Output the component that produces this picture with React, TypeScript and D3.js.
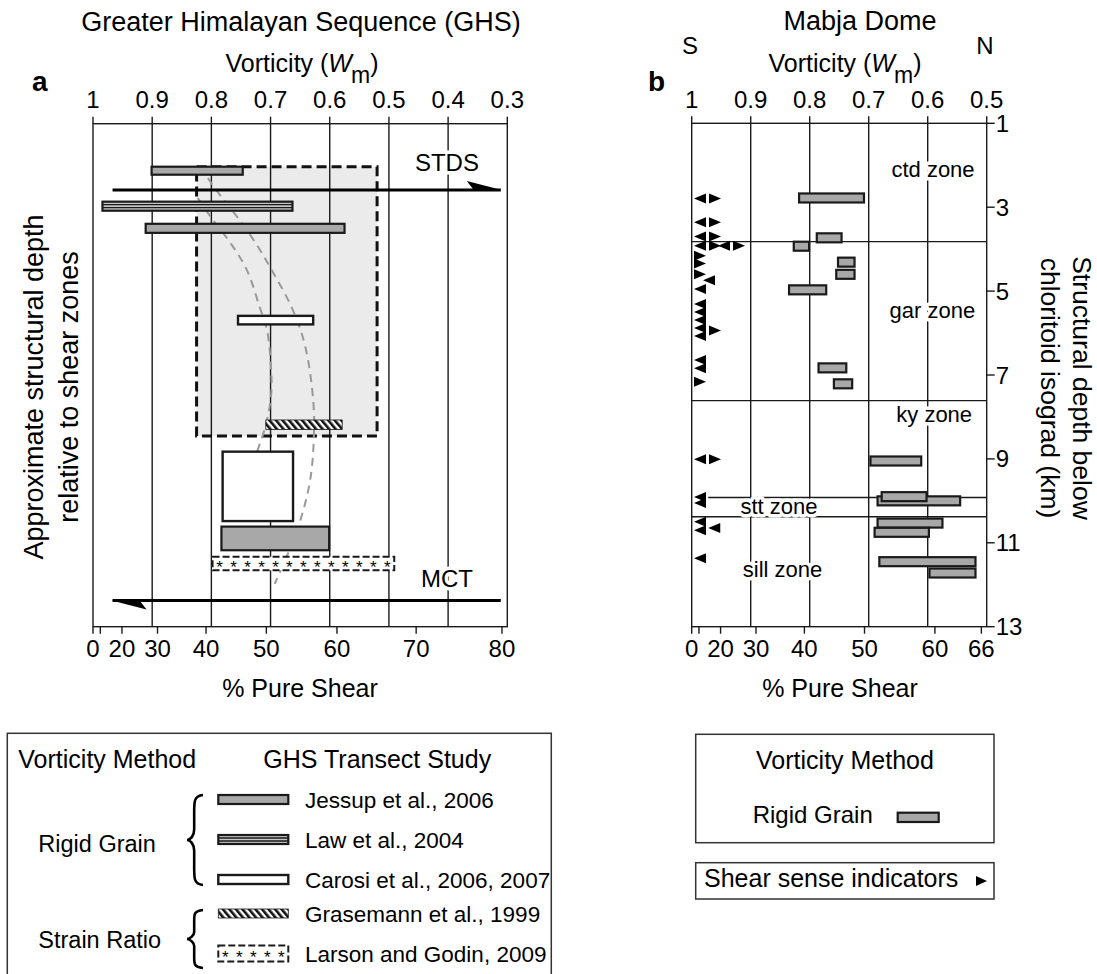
import { useEffect, useRef } from 'react';
import * as d3 from 'd3';

const FONT = '"Liberation Sans", Arial, Helvetica, sans-serif';
const INK = '#1a1a1a';
const GRAY = '#a8a8a8';

// axis ticks
const vorticityTicksA = [1, 0.9, 0.8, 0.7, 0.6, 0.5, 0.4, 0.3];
const vorticityTicksB = [1, 0.9, 0.8, 0.7, 0.6, 0.5];
const pureShearTicksA = [0, 10, 20, 30, 40, 50, 60, 70, 80];
const pureShearLabelsA = [0, 20, 30, 40, 50, 60, 70, 80];
const pureShearTicksB = [0, 10, 20, 30, 40, 50, 60, 66];
const pureShearLabelsB = [0, 20, 30, 40, 50, 60, 66];
const depthTicksB = [1, 3, 5, 7, 9, 11, 13];

// (a) GHS: Wm ranges vs relative structural depth (0 = top of frame, 100 = base)
const ghsStudies = ['jessup', 'law', 'carosi', 'grasemann', 'larson'];
const ghsStudyLabels = [
  'Jessup et al., 2006',
  'Law et al., 2004',
  'Carosi et al., 2006, 2007',
  'Grasemann et al., 1999',
  'Larson and Godin, 2009'
];
const ghsBarStudy = ['jessup', 'law', 'jessup', 'carosi', 'grasemann', 'carosi', 'jessup', 'larson'];
const ghsBarWmHigh = [0.901, 0.984, 0.911, 0.755, 0.708, 0.781, 0.783, 0.798];
const ghsBarWmLow = [0.747, 0.663, 0.575, 0.628, 0.579, 0.662, 0.601, 0.491];
const ghsBarTop = [8.55, 15.5, 19.9, 38.2, 58.9, 65.2, 80.1, 86.1];
const ghsBarBase = [10.14, 17.3, 21.7, 39.9, 60.8, 79.0, 84.8, 88.8];

const ghsEnvelopeWm = [0.825, 0.52];
const ghsEnvelopeDepth = [8.55, 62.1];

// hand-drawn trend lines [Wm, depth]
const trendLeft: [number, number][] = [
  [0.823, 14.8], [0.797, 19.2], [0.769, 23.5], [0.74, 29.1], [0.718, 36.6],
  [0.706, 41.0], [0.699, 49.0], [0.699, 53.9], [0.708, 59.9], [0.723, 65.3]
];
const trendRight: [number, number][] = [
  [0.806, 10.8], [0.779, 15.2], [0.752, 19.2], [0.721, 24.5], [0.701, 28.5],
  [0.664, 36.6], [0.642, 44.0], [0.628, 54.9], [0.627, 62.9], [0.633, 70.8],
  [0.647, 77.8], [0.667, 84.4], [0.693, 91.5]
];

const shearZoneNames = ['STDS', 'MCT'];
const shearZoneDepth = [13.2, 94.8];
const shearZoneDir = [1, -1];
const shearZoneLabelDepth = [9.34, 92.05];

// (b) Mabja Dome
const mabjaDepth = [2.78, 3.73, 3.93, 4.31, 4.60, 4.97, 6.83, 7.21, 9.05, 10.0, 9.90, 10.53, 10.75, 11.45, 11.72];
const mabjaWmHigh = [0.818, 0.788, 0.827, 0.752, 0.755, 0.835, 0.785, 0.759, 0.697, 0.685, 0.678, 0.685, 0.690, 0.682, 0.597];
const mabjaWmLow = [0.708, 0.746, 0.801, 0.724, 0.724, 0.772, 0.738, 0.728, 0.611, 0.545, 0.602, 0.575, 0.598, 0.519, 0.519];

const senseDepth = [2.79, 2.79, 3.36, 3.36, 3.70, 3.70, 3.92, 3.92, 3.92, 3.92, 4.16, 4.34, 4.60, 4.74, 4.95,
  5.31, 5.50, 5.69, 5.88, 6.07, 5.94, 6.64, 6.84, 7.16, 9.01, 9.01, 9.91, 10.05, 10.50, 10.70, 10.65, 11.37];
const senseDir = ['L', 'R', 'L', 'R', 'L', 'R', 'L', 'R', 'L', 'R', 'R', 'R', 'R', 'L', 'L',
  'L', 'L', 'L', 'L', 'L', 'R', 'L', 'L', 'R', 'L', 'R', 'L', 'L', 'L', 'L', 'L', 'L'];
const senseSlot = [0, 1, 0, 1, 0, 1, 0, 1, 1.6, 2.6, 0, 0, 0, 0.6, 0,
  0, 0, 0, 0, 0, 1, 0, 0, 0, 0, 1, 0, 0, 0, 0, 0.95, 0];

const zoneBoundaryDepth = [3.82, 7.61, 9.92, 10.38];
const zoneBoundaryStartWm = [1, 1, 0.972, 1];
const zoneNames = ['ctd zone', 'gar zone', 'ky zone', 'stt zone', 'sill zone'];
const zoneLabelDepth = [2.27, 5.65, 8.11, 10.32, 11.81];
const zoneLabelWm = [0.591, 0.592, 0.589, 0.852, 0.846];

// percent pure shear -> kinematic vorticity number
const toWm = (p: number) => Math.cos((p / 100) * (Math.PI / 2));

export default function App() {
  const ref = useRef<SVGSVGElement>(null);

  useEffect(() => {
    if (!ref.current) return;
    const svg = d3.select(ref.current);
    svg.selectAll('*').remove();

    const defs = svg.append('defs');
    const hatch = defs.append('pattern')
      .attr('id', 'hatch')
      .attr('patternUnits', 'userSpaceOnUse')
      .attr('width', 5).attr('height', 10)
      .attr('patternTransform', 'rotate(-40)');
    hatch.append('rect').attr('width', 5).attr('height', 10).attr('fill', '#fff');
    hatch.append('rect').attr('width', 2.6).attr('height', 10).attr('fill', '#111');

    const xA = d3.scaleLinear().domain([1, 0.3]).range([93, 507.3]);
    const yA = d3.scaleLinear().domain([0, 100]).range([123.7, 626.7]);
    const xB = d3.scaleLinear().domain([1, 0.5]).range([691.7, 986.7]);
    const yB = d3.scaleLinear().domain([1, 13]).range([123.3, 626.7]);

    const text = (g: any, x: number, y: number, s: string, size: number, anchor = 'start', weight = 'normal') =>
      g.append('text')
        .attr('x', x).attr('y', y)
        .attr('font-size', size)
        .attr('text-anchor', anchor)
        .attr('font-weight', weight)
        .attr('fill', '#000')
        .text(s);

    const halo = (sel: any) => sel
      .attr('stroke', '#fff').attr('stroke-width', 7)
      .attr('stroke-linejoin', 'round').attr('paint-order', 'stroke');

    const vortLabel = (g: any, cx: number, y: number) => {
      const t = g.append('text').attr('x', cx).attr('y', y).attr('font-size', 25).attr('text-anchor', 'middle');
      t.append('tspan').text('Vorticity (');
      t.append('tspan').attr('font-style', 'italic').text('W');
      t.append('tspan').attr('dy', 11).attr('dx', -1).attr('font-size', 23).text('m');
      t.append('tspan').attr('dy', -11).text(')');
    };

    // draws one study symbol (bar) in a box
    const drawStudy = (g: any, study: string, x: number, y: number, w: number, h: number) => {
      if (study === 'jessup') {
        g.append('rect').attr('x', x).attr('y', y).attr('width', w).attr('height', h)
          .attr('fill', GRAY).attr('stroke', INK).attr('stroke-width', 2.2);
      } else if (study === 'law') {
        g.append('rect').attr('x', x).attr('y', y).attr('width', w).attr('height', h)
          .attr('fill', '#c4c4c4').attr('stroke', INK).attr('stroke-width', 2.2);
        [1 / 3, 2 / 3].forEach(f => {
          g.append('line').attr('x1', x).attr('x2', x + w)
            .attr('y1', y + h * f).attr('y2', y + h * f)
            .attr('stroke', INK).attr('stroke-width', 1.3);
        });
      } else if (study === 'carosi') {
        g.append('rect').attr('x', x).attr('y', y).attr('width', w).attr('height', h)
          .attr('fill', '#fff').attr('stroke', INK).attr('stroke-width', 2.4);
      } else if (study === 'grasemann') {
        g.append('rect').attr('x', x).attr('y', y).attr('width', w).attr('height', h)
          .attr('fill', 'url(#hatch)').attr('stroke', INK).attr('stroke-width', 0.8);
      } else if (study === 'larson') {
        g.append('rect').attr('x', x).attr('y', y).attr('width', w).attr('height', h)
          .attr('fill', '#fff').attr('stroke', INK).attr('stroke-width', 2)
          .attr('stroke-dasharray', '7,3');
        const n = Math.max(1, Math.round(w / 14));
        d3.range(n).forEach(i => {
          g.append('text')
            .attr('x', x + (i + 0.5) * (w / n))
            .attr('y', y + h / 2 + 9.5)
            .attr('font-size', 17)
            .attr('text-anchor', 'middle')
            .text('*');
        });
      }
    };

    // ---------------- panel a ----------------
    const gA = svg.append('g');
    const [eW0, eW1] = ghsEnvelopeWm;
    const [eD0, eD1] = ghsEnvelopeDepth;

    gA.append('rect')
      .attr('x', xA(eW0)).attr('y', yA(eD0))
      .attr('width', xA(eW1) - xA(eW0)).attr('height', yA(eD1) - yA(eD0))
      .attr('fill', '#ebebeb');

    gA.selectAll('line.grid')
      .data(vorticityTicksA.slice(1, -1))
      .join('line')
      .attr('x1', d => xA(d)).attr('x2', d => xA(d))
      .attr('y1', yA(0)).attr('y2', yA(100))
      .attr('stroke', INK).attr('stroke-width', 1.4);

    gA.selectAll('line.top')
      .data(vorticityTicksA)
      .join('line')
      .attr('x1', d => xA(d)).attr('x2', d => xA(d))
      .attr('y1', yA(0) - 7).attr('y2', yA(0))
      .attr('stroke', INK).attr('stroke-width', 1.4);

    vorticityTicksA.forEach(d => text(gA, xA(d), 108.3, String(d), 24, 'middle'));

    gA.selectAll('line.bottom')
      .data(pureShearTicksA)
      .join('line')
      .attr('x1', d => xA(toWm(d))).attr('x2', d => xA(toWm(d)))
      .attr('y1', yA(100)).attr('y2', yA(100) + 7)
      .attr('stroke', INK).attr('stroke-width', 1.4);

    pureShearLabelsA.forEach(p => text(gA, xA(toWm(p)), 657.3, String(p), 24, 'middle'));

    gA.append('rect')
      .attr('x', xA(1)).attr('y', yA(0))
      .attr('width', xA(0.3) - xA(1)).attr('height', yA(100) - yA(0))
      .attr('fill', 'none').attr('stroke', INK).attr('stroke-width', 1.4);

    gA.append('rect')
      .attr('x', xA(eW0)).attr('y', yA(eD0))
      .attr('width', xA(eW1) - xA(eW0)).attr('height', yA(eD1) - yA(eD0))
      .attr('fill', 'none').attr('stroke', '#111').attr('stroke-width', 3)
      .attr('stroke-dasharray', '10,5');

    const trend = d3.line<[number, number]>()
      .x(d => xA(d[0])).y(d => yA(d[1]))
      .curve(d3.curveCatmullRom);
    [trendLeft, trendRight].forEach(pts => {
      gA.append('path').attr('d', trend(pts))
        .attr('fill', 'none').attr('stroke', '#999').attr('stroke-width', 2)
        .attr('stroke-dasharray', '8,6');
    });

    ghsBarStudy.forEach((s, i) => {
      const x0 = xA(ghsBarWmHigh[i]);
      const x1 = xA(ghsBarWmLow[i]);
      const y0 = yA(ghsBarTop[i]);
      const y1 = yA(ghsBarBase[i]);
      drawStudy(gA, s, x0, y0, x1 - x0, y1 - y0);
    });

    // shear zone arrows
    shearZoneNames.forEach((name, i) => {
      const y = yA(shearZoneDepth[i]);
      const xl = xA(0.967), xr = xA(0.311);
      gA.append('line').attr('x1', xl).attr('x2', xr).attr('y1', y).attr('y2', y)
        .attr('stroke', '#000').attr('stroke-width', 3);
      const head = shearZoneDir[i] > 0
        ? [[xr + 1, y], [xr - 34, y - 9], [xr - 27, y]]
        : [[xl - 1, y], [xl + 34, y + 9], [xl + 27, y]];
      gA.append('path').attr('d', 'M' + head.map(p => p.join(',')).join('L') + 'Z').attr('fill', '#000');
      halo(text(gA, xA(0.402), yA(shearZoneLabelDepth[i]), name, 24, 'middle'));
    });

    text(gA, 301, 31, 'Greater Himalayan Sequence (GHS)', 27, 'middle');
    vortLabel(gA, 302, 71.7);
    text(gA, 32, 91, 'a', 28, 'start', 'bold');
    text(gA, 300, 697, '% Pure Shear', 25, 'middle');

    const yl = gA.append('text').attr('transform', 'translate(0,387) rotate(-90)')
      .attr('font-size', 27).attr('text-anchor', 'middle');
    yl.append('tspan').attr('x', 0).attr('y', 43).text('Approximate structural depth');
    yl.append('tspan').attr('x', 0).attr('y', 78).text('relative to shear zones');

    // ---------------- panel b ----------------
    const gB = svg.append('g');

    gB.selectAll('line.grid')
      .data(vorticityTicksB.slice(1, -1))
      .join('line')
      .attr('x1', d => xB(d)).attr('x2', d => xB(d))
      .attr('y1', yB(1)).attr('y2', yB(13))
      .attr('stroke', INK).attr('stroke-width', 1.4);

    zoneBoundaryDepth.forEach((d, i) => {
      gB.append('line')
        .attr('x1', xB(zoneBoundaryStartWm[i])).attr('x2', xB(0.5))
        .attr('y1', yB(d)).attr('y2', yB(d))
        .attr('stroke', INK).attr('stroke-width', 1.4);
    });

    gB.selectAll('line.top')
      .data(vorticityTicksB)
      .join('line')
      .attr('x1', d => xB(d)).attr('x2', d => xB(d))
      .attr('y1', yB(1) - 7).attr('y2', yB(1))
      .attr('stroke', INK).attr('stroke-width', 1.4);
    vorticityTicksB.forEach(d => text(gB, xB(d), 108.3, String(d), 24, 'middle'));

    gB.selectAll('line.bottom')
      .data(pureShearTicksB)
      .join('line')
      .attr('x1', d => xB(toWm(d))).attr('x2', d => xB(toWm(d)))
      .attr('y1', yB(13)).attr('y2', yB(13) + 7)
      .attr('stroke', INK).attr('stroke-width', 1.4);
    pureShearLabelsB.forEach(p => text(gB, xB(toWm(p)), 657.3, String(p), 24, 'middle'));

    gB.selectAll('line.right')
      .data(depthTicksB)
      .join('line')
      .attr('x1', xB(0.5)).attr('x2', xB(0.5) + 8)
      .attr('y1', d => yB(d)).attr('y2', d => yB(d))
      .attr('stroke', INK).attr('stroke-width', 1.4);
    depthTicksB.forEach(d => text(gB, xB(0.5) + 9, yB(d) + 8.5, String(d), 24));

    gB.append('rect')
      .attr('x', xB(1)).attr('y', yB(1))
      .attr('width', xB(0.5) - xB(1)).attr('height', yB(13) - yB(1))
      .attr('fill', 'none').attr('stroke', INK).attr('stroke-width', 1.4);

    zoneNames.forEach((z, i) => {
      halo(text(gB, xB(zoneLabelWm[i]), yB(zoneLabelDepth[i]), z, 22, 'middle'));
    });

    mabjaDepth.forEach((d, i) => {
      const x0 = xB(mabjaWmHigh[i]);
      const x1 = xB(mabjaWmLow[i]);
      drawStudy(gB, 'jessup', x0, yB(d) - 4.5, x1 - x0, 9);
    });

    senseDepth.forEach((d, i) => {
      const cx = xB(1) + 8.3 + senseSlot[i] * 15;
      const cy = yB(d);
      const s = senseDir[i] === 'L' ? 1 : -1;
      gB.append('path')
        .attr('d', `M${cx - 6 * s},${cy}L${cx + 6 * s},${cy - 5}L${cx + 6 * s},${cy + 5}Z`)
        .attr('fill', '#000');
    });

    text(gB, 860, 30, 'Mabja Dome', 27, 'middle');
    text(gB, 690, 54, 'S', 24, 'middle');
    text(gB, 985, 54, 'N', 24, 'middle');
    vortLabel(gB, 845, 71.7);
    text(gB, 648, 91, 'b', 28, 'start', 'bold');
    text(gB, 840, 697, '% Pure Shear', 25, 'middle');

    const yr = gB.append('text').attr('transform', 'translate(0,388) rotate(90)')
      .attr('font-size', 26.5).attr('text-anchor', 'middle');
    yr.append('tspan').attr('x', 0).attr('y', -1073).text('Structural depth below');
    yr.append('tspan').attr('x', 0).attr('y', -1041).text('chloritoid isograd (km)');

    // ---------------- legend a ----------------
    const gL = svg.append('g');
    gL.append('rect').attr('x', 7.3).attr('y', 733.3).attr('width', 544).attr('height', 300)
      .attr('fill', 'none').attr('stroke', '#333').attr('stroke-width', 1.5);
    text(gL, 18.3, 768.3, 'Vorticity Method', 25);
    text(gL, 263.3, 768.3, 'GHS Transect Study', 25);
    text(gL, 38.3, 851.7, 'Rigid Grain', 23.5);
    text(gL, 38.3, 948.3, 'Strain Ratio', 23.5);

    const brace = (x: number, y0: number, y1: number) => {
      const w = 16, m = (y0 + y1) / 2, h = y1 - y0, c = x + w * 0.45;
      return `M${x + w},${y0} C${x + w * 0.4},${y0 + 1} ${c},${y0 + h * 0.08} ${c},${y0 + h * 0.22}`
        + ` L${c},${m - h * 0.12} C${c},${m - 4} ${x + w * 0.2},${m} ${x},${m}`
        + ` C${x + w * 0.2},${m} ${c},${m + 4} ${c},${m + h * 0.12}`
        + ` L${c},${y1 - h * 0.22} C${c},${y1 - h * 0.08} ${x + w * 0.4},${y1 - 1} ${x + w},${y1}`;
    };
    [[795, 885], [910, 968]].forEach(([a, b]) => {
      gL.append('path').attr('d', brace(187, a, b))
        .attr('fill', 'none').attr('stroke', '#000').attr('stroke-width', 2.6);
    });

    ghsStudies.forEach((s, i) => {
      const cy = 799.5 + i * 40 - (i >= 3 ? 6 : 0);
      const h = s === 'larson' ? 16 : 9;
      drawStudy(gL, s, 218.3, cy - h / 2, 70, h);
      text(gL, 305, cy + 8, ghsStudyLabels[i], 22.5);
    });

    // ---------------- legend b ----------------
    const gM = svg.append('g');
    gM.append('rect').attr('x', 695.7).attr('y', 734.3).attr('width', 298.3).attr('height', 108.4)
      .attr('fill', 'none').attr('stroke', '#333').attr('stroke-width', 1.5);
    text(gM, 845, 769.3, 'Vorticity Method', 25, 'middle');
    text(gM, 752.7, 823.3, 'Rigid Grain', 24);
    drawStudy(gM, 'jessup', 897.7, 812.7, 41, 9.3);

    gM.append('rect').attr('x', 695.7).attr('y', 862.7).attr('width', 298.3).attr('height', 36.3)
      .attr('fill', 'none').attr('stroke', '#333').attr('stroke-width', 1.5);
    text(gM, 704, 886.7, 'Shear sense indicators', 25);
    gM.append('path').attr('d', 'M987,881L976,876L976,886Z').attr('fill', '#000');
  }, []);

  return (
    <>
      <style>{'body{margin:0;background:#fff}'}</style>
      <svg
        ref={ref}
        width={1097}
        height={974}
        style={{ display: 'block', background: '#fff', fontFamily: FONT }}
      />
    </>
  );
}
